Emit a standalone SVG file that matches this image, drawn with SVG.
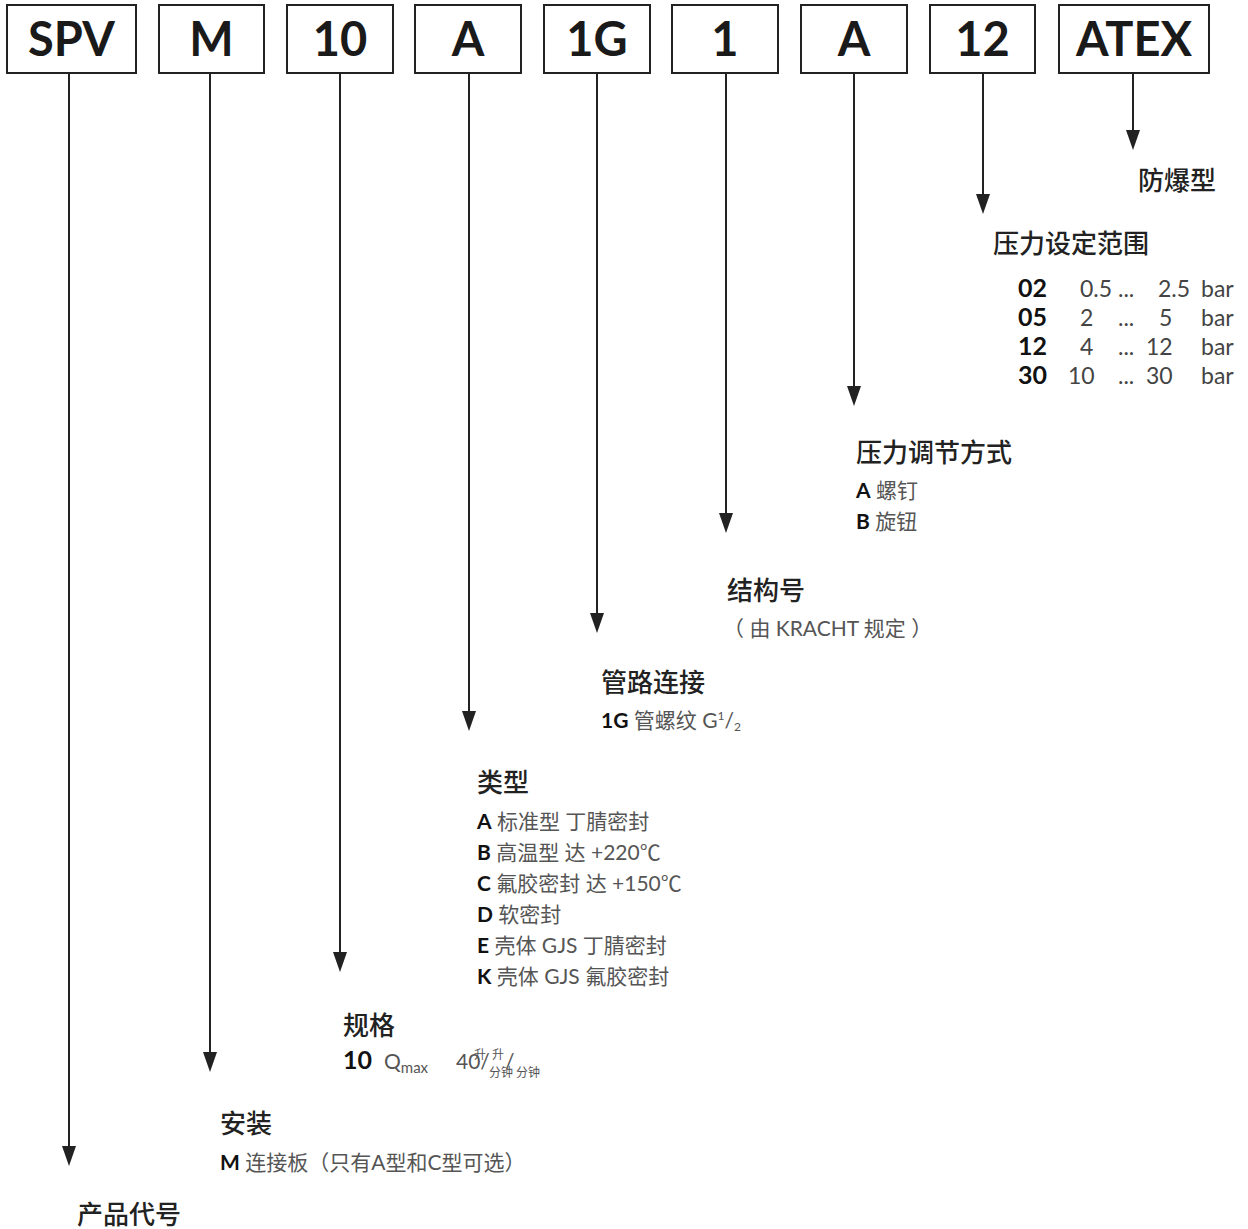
<svg xmlns="http://www.w3.org/2000/svg" width="1248" height="1229" viewBox="0 0 1248 1229">
<style>
.box{fill:#fff;stroke:#222;stroke-width:2}
.bt{font-family:Lato,"Noto Sans CJK SC",sans-serif;font-weight:bold;font-size:47px;fill:#1a1a1a;text-anchor:middle}
.h{font-family:Lato,"Noto Sans CJK SC",sans-serif;font-weight:500;font-size:26px;fill:#222}
.it{font-family:Lato,"Noto Sans CJK SC",sans-serif;font-size:21px;fill:#555}
.sm{font-family:"Noto Sans CJK SC",sans-serif;font-size:12px;fill:#555}
.k{font-weight:bold;fill:#111}
.tb{font-family:Lato,"Noto Sans CJK SC",sans-serif;font-size:23px;fill:#444}
.tk{font-weight:bold;fill:#111;font-size:25px}
.ln{stroke:#222;stroke-width:2;fill:none}
.ah{fill:#222}
</style>
<rect width="1248" height="1229" fill="#fff"/>
<g id="connectors">
<line class="ln" x1="69" y1="73" x2="69" y2="1150"/>
<path class="ah" d="M62,1146 L76,1146 L69,1166 Z"/>
<line class="ln" x1="210" y1="73" x2="210" y2="1056"/>
<path class="ah" d="M203,1052 L217,1052 L210,1072 Z"/>
<line class="ln" x1="340" y1="73" x2="340" y2="956"/>
<path class="ah" d="M333,952 L347,952 L340,972 Z"/>
<line class="ln" x1="469" y1="73" x2="469" y2="715"/>
<path class="ah" d="M462,711 L476,711 L469,731 Z"/>
<line class="ln" x1="597" y1="73" x2="597" y2="617"/>
<path class="ah" d="M590,613 L604,613 L597,633 Z"/>
<line class="ln" x1="726" y1="73" x2="726" y2="517"/>
<path class="ah" d="M719,513 L733,513 L726,533 Z"/>
<line class="ln" x1="854" y1="73" x2="854" y2="390"/>
<path class="ah" d="M847,386 L861,386 L854,406 Z"/>
<line class="ln" x1="983" y1="73" x2="983" y2="198"/>
<path class="ah" d="M976,194 L990,194 L983,214 Z"/>
<line class="ln" x1="1133" y1="73" x2="1133" y2="134"/>
<path class="ah" d="M1126,130 L1140,130 L1133,150 Z"/>
</g>
<g id="box-spv"><rect class="box" x="7" y="5" width="129" height="68"/><text class="bt" x="71.5" y="56">SPV</text></g>
<g id="box-m"><rect class="box" x="159" y="5" width="105" height="68"/><text class="bt" x="211.5" y="56">M</text></g>
<g id="box-10"><rect class="box" x="287" y="5" width="106" height="68"/><text class="bt" x="340" y="56">10</text></g>
<g id="box-a"><rect class="box" x="415" y="5" width="106" height="68"/><text class="bt" x="468" y="56">A</text></g>
<g id="box-1g"><rect class="box" x="544" y="5" width="106" height="68"/><text class="bt" x="597" y="56">1G</text></g>
<g id="box-1"><rect class="box" x="672" y="5" width="106" height="68"/><text class="bt" x="725" y="56">1</text></g>
<g id="box-a2"><rect class="box" x="801" y="5" width="106" height="68"/><text class="bt" x="854" y="56">A</text></g>
<g id="box-12"><rect class="box" x="930" y="5" width="105" height="68"/><text class="bt" x="982.5" y="56">12</text></g>
<g id="box-atex"><rect class="box" x="1059" y="5" width="150" height="68"/><text class="bt" x="1134" y="56">ATEX</text></g>

<g id="label-atex"><text class="h" x="1138" y="190">防爆型</text></g>
<g id="label-pressure-range">
<text class="h" x="993" y="253">压力设定范围</text>
<text class="tb" y="297"><tspan class="tk" x="1018">02</tspan><tspan x="1080">0.5</tspan><tspan x="1118">...</tspan><tspan x="1158">2.5</tspan><tspan x="1201">bar</tspan></text>
<text class="tb" y="326"><tspan class="tk" x="1018">05</tspan><tspan x="1080">2</tspan><tspan x="1118">...</tspan><tspan x="1159">5</tspan><tspan x="1201">bar</tspan></text>
<text class="tb" y="355"><tspan class="tk" x="1018">12</tspan><tspan x="1080">4</tspan><tspan x="1118">...</tspan><tspan x="1146">12</tspan><tspan x="1201">bar</tspan></text>
<text class="tb" y="384"><tspan class="tk" x="1018">30</tspan><tspan x="1068">10</tspan><tspan x="1118">...</tspan><tspan x="1146">30</tspan><tspan x="1201">bar</tspan></text>
</g>
<g id="label-adjust">
<text class="h" x="856" y="462">压力调节方式</text>
<text class="it" x="856" y="498"><tspan class="k">A</tspan> 螺钉</text>
<text class="it" x="856" y="529"><tspan class="k">B</tspan> 旋钮</text>
</g>
<g id="label-construction">
<text class="h" x="727" y="600">结构号</text>
<text class="it" x="723" y="636">（ 由 KRACHT 规定 ）</text>
</g>
<g id="label-connection">
<text class="h" x="601" y="692">管路连接</text>
<text class="it" x="601" y="728"><tspan class="k">1G</tspan> 管螺纹 G<tspan style="font-size:12px" dy="-8">1</tspan><tspan dy="8">/</tspan><tspan style="font-size:12px" dy="3">2</tspan></text>
</g>
<g id="label-type">
<text class="h" x="477" y="792">类型</text>
<text class="it" x="477" y="829"><tspan class="k">A</tspan> 标准型 丁腈密封</text>
<text class="it" x="477" y="860"><tspan class="k">B</tspan> 高温型 达 +220℃</text>
<text class="it" x="477" y="891"><tspan class="k">C</tspan> 氟胶密封 达 +150℃</text>
<text class="it" x="477" y="922"><tspan class="k">D</tspan> 软密封</text>
<text class="it" x="477" y="953"><tspan class="k">E</tspan> 壳体 GJS 丁腈密封</text>
<text class="it" x="477" y="984"><tspan class="k">K</tspan> 壳体 GJS 氟胶密封</text>
</g>
<g id="label-size">
<text class="h" x="343" y="1035">规格</text>
<text class="it" x="343" y="1069"><tspan class="k" style="font-size:25px">10</tspan></text>
<text class="it" x="384" y="1069">Q<tspan style="font-size:15px" dy="4">max</tspan></text>
<text class="it" x="456" y="1069">40/</text>
<text class="sm" x="474" y="1059">升</text>
<text class="sm" x="492" y="1059">升</text>
<text class="it" x="505" y="1069">/</text>
<text class="sm" x="489" y="1077">分钟</text>
<text class="sm" x="516" y="1077">分钟</text>
</g>
<g id="label-mount">
<text class="h" x="220" y="1133">安装</text>
<text class="it" x="220" y="1170"><tspan class="k">M</tspan> 连接板（只有A型和C型可选）</text>
</g>
<g id="label-product">
<text class="h" x="77" y="1224">产品代号</text>
</g>
</svg>
